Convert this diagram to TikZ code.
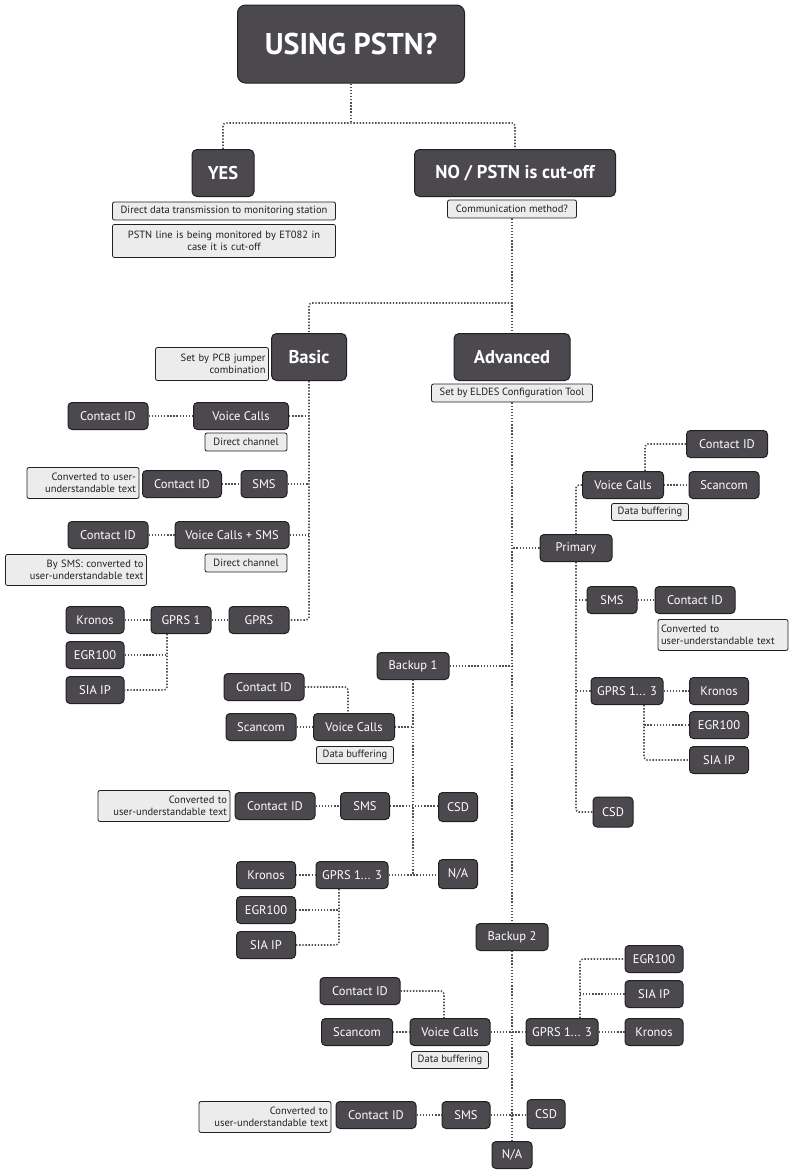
\documentclass[tikz,border=0pt]{standalone}
\usepackage{fontspec}
\setmainfont{PT Sans}
\definecolor{optfill}{RGB}{76,73,78}
\definecolor{optedge}{RGB}{35,31,32}
\definecolor{notefill}{RGB}{236,236,237}
\definecolor{linkgray}{RGB}{80,80,80}

\begin{document}
\begin{tikzpicture}[x=1pt,y=-1pt,
      every node/.style={font=\fontsize{12.5}{14}\selectfont},
      opt/.style={draw=optedge,fill=optfill,text=white,rounded corners=4pt,
                  line width=1pt,inner sep=0pt,minimum height=27pt},
      big/.style={opt,font=\bfseries\fontsize{18.5}{20}\selectfont,
                  minimum height=47pt,rounded corners=5pt},
      note/.style={draw=optedge,fill=notefill,text=optedge,rounded corners=2pt,
                   line width=0.8pt,inner xsep=3pt,inner ysep=0pt,minimum height=18pt,
                   font=\fontsize{10.5}{12.5}\selectfont},
      link/.style={draw=linkgray,line width=1.6pt,dash pattern=on 1.4pt off 1.7pt,
                   rounded corners=3pt}]
    \useasboundingbox (0,0) rectangle (789,1170);
    % top
    \node[big,font=\bfseries\fontsize{30}{32}\selectfont,minimum width=227pt,
          minimum height=78pt,rounded corners=8pt] (pstn) at (351,44) {USING PSTN?};
    \node[big,minimum width=62pt]  (yes) at (223,173) {YES};
    \node[big,minimum width=201pt] (no)  at (515,173) {NO / PSTN is cut-off};
    \node[note,minimum width=223pt] (direct) at (224,211) {Direct data transmission to monitoring station};
    \node[note,text width=217pt,align=center,minimum height=33pt] (monit) at (224,241)
          {PSTN line is being monitored by ET082 in\\case it is cut-off};
    \node[note,minimum width=129pt] (comm) at (512,209) {Communication method?};
    \coordinate (split) at (351,123);
    \coordinate (fork)  at (512,303);
    \draw[link] (pstn.south) -- (split);
    \draw[link] (yes.north) |- (split) -| (no.north);
    % basic / advanced
    \node[big,minimum width=75pt]  (basic) at (309,357) {Basic};
    \node[big,minimum width=116pt] (adv)   at (512,357) {Advanced};
    \node[note,text width=107pt,align=right,minimum height=33pt] (pcb) at (212,364)
          {Set by PCB jumper\\combination};
    \node[note,minimum width=161pt] (eldes) at (512,393) {Set by ELDES Configuration Tool};
    \draw[link] (comm.south) -- (adv.north);
    \draw[link] (fork) -| (basic.north);

    % basic branch
    \node[opt,minimum width=95pt]  (vcA)   at (241,416) {Voice Calls};
    \node[opt,minimum width=80pt]  (cidA1) at (108,416) {Contact ID};
    \node[note,minimum width=82pt] (dchA1) at (246,442) {Direct channel};
    \node[opt,minimum width=46pt]  (smsA)  at (264,484) {SMS};
    \node[opt,minimum width=79pt]  (cidA2) at (182,484) {Contact ID};
    \node[note,text width=106pt,align=right,minimum height=31pt] (convA) at (83,483)
          {Converted to user-\\understandable text};
    \node[opt,minimum width=114pt] (vcsA)  at (232,535) {Voice Calls + SMS};
    \node[opt,minimum width=80pt]  (cidA3) at (108,535) {Contact ID};
    \node[note,text width=135pt,align=right,minimum height=31pt] (bysmsA) at (76,570)
          {By SMS: converted to\\user-understandable text};
    \node[note,minimum width=82pt] (dchA2) at (246,563) {Direct channel};
    \node[opt,minimum width=60pt]  (gprsA)  at (259,620) {GPRS};
    \node[opt,minimum width=60pt]  (gprs1A) at (181,620) {GPRS 1};
    \node[opt,minimum width=58pt]  (kronA)  at (95,620) {Kronos};
    \node[opt,minimum width=58pt]  (egrA)   at (95,655) {EGR100};
    \node[opt,minimum width=58pt]  (siaA)   at (95,690) {SIA IP};
    \draw[link] (basic.south) |- (gprsA.east);
    \draw[link] (vcA.east) -- (vcA.east -| basic.south);
    \draw[link] (smsA.east) -- (smsA.east -| basic.south);
    \draw[link] (vcsA.east) -- (vcsA.east -| basic.south);
    \draw[link] (cidA1) -- (vcA);
    \draw[link] (cidA2) -- (smsA);
    \draw[link] (cidA3) -- (vcsA);
    \draw[link] (kronA) -- (gprs1A);
    \draw[link] (gprs1A) -- (gprsA);
    \draw[link] ([xshift=-14pt]gprs1A.south) coordinate (gA) |- (siaA.east);
    \draw[link] (egrA.east) -- (egrA.east -| gA);

    % advanced: primary
    \node[opt,minimum width=72pt] (prim)  at (576,548) {Primary};
    \node[opt,minimum width=81pt] (vcP)   at (623,485) {Voice Calls};
    \node[opt,minimum width=81pt] (cidP1) at (727,444) {Contact ID};
    \node[opt,minimum width=70pt] (scP)   at (724,485) {Scancom};
    \node[note,minimum width=77pt,minimum height=17pt] (bufP) at (650,512) {Data buffering};
    \node[opt,minimum width=50pt] (smsP)  at (612,600) {SMS};
    \node[opt,minimum width=80pt] (cidP2) at (695,600) {Contact ID};
    \node[note,text width=124pt,align=left,minimum height=31pt] (convP) at (723,635)
          {Converted to\\user-understandable text};
    \node[opt,minimum width=72pt] (gprsP) at (627,691) {GPRS 1... 3};
    \node[opt,minimum width=59pt] (kronP) at (719,691) {Kronos};
    \node[opt,minimum width=59pt] (egrP)  at (719,725) {EGR100};
    \node[opt,minimum width=59pt] (siaP)  at (719,760) {SIA IP};
    \node[opt,minimum width=40pt,minimum height=30pt] (csdP) at (613,812) {CSD};
    \draw[link] (eldes.south) -- (prim.west -| eldes.south);
    \draw[link] (prim.west) -- (prim.west -| eldes.south);
    \draw[link] (vcP.west) -| (prim.north);
    \draw[link] (prim.south) |- (csdP.west);
    \draw[link] (smsP.west) -- (smsP.west -| prim.south);
    \draw[link] (gprsP.west) -- (gprsP.west -| prim.south);
    \draw[link] ([xshift=22pt]vcP.north) |- (cidP1.west);
    \draw[link] (vcP) -- (scP);
    \draw[link] (smsP) -- (cidP2);
    \draw[link] (gprsP) -- (kronP);
    \draw[link] ([xshift=17pt]gprsP.south) coordinate (gP) |- (siaP.west);
    \draw[link] (egrP.west) -- (egrP.west -| gP);

    % backup 1
    \node[opt,minimum width=72pt] (bk1)    at (413,666) {Backup 1};
    \node[opt,minimum width=80pt] (cidB1a) at (264,687) {Contact ID};
    \node[opt,minimum width=70pt] (scB1)   at (261,727) {Scancom};
    \node[opt,minimum width=81pt] (vcB1)   at (354,727) {Voice Calls};
    \node[note,minimum width=77pt,minimum height=17pt] (bufB1) at (355,755) {Data buffering};
    \node[note,text width=126pt,align=right,minimum height=31pt] (convB1) at (164,806)
          {Converted to\\user-understandable text};
    \node[opt,minimum width=80pt] (cidB1b) at (275,806) {Contact ID};
    \node[opt,minimum width=49pt] (smsB1)  at (365,806) {SMS};
    \node[opt,minimum width=39pt,minimum height=29pt] (csdB1) at (458,807) {CSD};
    \node[opt,minimum width=59pt] (kronB1) at (266,875) {Kronos};
    \node[opt,minimum width=72pt] (gprsB1) at (352,875) {GPRS 1... 3};
    \node[opt,minimum width=39pt,minimum height=29pt] (naB1) at (458,874) {N/A};
    \node[opt,minimum width=59pt] (egrB1)  at (266,910) {EGR100};
    \node[opt,minimum width=59pt] (siaB1)  at (266,945) {SIA IP};
    \draw[link] (bk1.east) -- (bk1.east -| eldes.south);
    \draw[link] (bk1.south) -- (bk1.south |- gprsB1.east);
    \draw[link] (vcB1.east) -- (vcB1.east -| bk1.south);
    \draw[link] (cidB1a.east) -| ([xshift=-6pt]vcB1.north);
    \draw[link] (scB1) -- (vcB1);
    \draw[link] (cidB1b) -- (smsB1);
    \draw[link] (smsB1.east) -- (smsB1.east -| csdB1.west);
    \draw[link] (kronB1) -- (gprsB1);
    \draw[link] (gprsB1.east) -- (gprsB1.east -| naB1.west);
    \draw[link] ([xshift=-13pt]gprsB1.south) coordinate (gB1) |- (siaB1.east);
    \draw[link] (egrB1.east) -- (egrB1.east -| gB1);

    % backup 2
    \node[opt,minimum width=72pt] (bk2)    at (512,937) {Backup 2};
    \node[opt,minimum width=80pt] (cidB2a) at (360,991) {Contact ID};
    \node[opt,minimum width=71pt] (scB2)   at (357,1032) {Scancom};
    \node[opt,minimum width=80pt] (vcB2)   at (450,1032) {Voice Calls};
    \node[note,minimum width=77pt,minimum height=17pt] (bufB2) at (450,1060) {Data buffering};
    \node[opt,minimum width=72pt] (gprsB2) at (562,1032) {GPRS 1... 3};
    \node[opt,minimum width=58pt] (egrB2)  at (654,959) {EGR100};
    \node[opt,minimum width=58pt] (siaB2)  at (654,994) {SIA IP};
    \node[opt,minimum width=58pt] (kronB2) at (654,1032) {Kronos};
    \node[note,text width=126pt,align=right,minimum height=31pt] (convB2) at (265,1117)
          {Converted to\\user-understandable text};
    \node[opt,minimum width=80pt] (cidB2b) at (376,1115) {Contact ID};
    \node[opt,minimum width=48pt] (smsB2)  at (466,1115) {SMS};
    \node[opt,minimum width=38pt,minimum height=29pt] (csdB2) at (546,1114) {CSD};
    \node[opt,minimum width=40pt] (naB2)   at (512,1155) {N/A};
    \draw[link] (prim.west -| eldes.south) -- (bk2.north);
    \draw[link] (bk2.south) -- (naB2.north);
    \draw[link] (cidB2a.east) -| ([xshift=-6pt]vcB2.north);
    \draw[link] (scB2) -- (vcB2);
    \draw[link] (vcB2) -- (gprsB2);
    \draw[link] (gprsB2) -- (kronB2);
    \draw[link] ([xshift=18pt]gprsB2.north) coordinate (gB2) |- (egrB2.west);
    \draw[link] (siaB2.west) -- (siaB2.west -| gB2);
    \draw[link] (cidB2b) -- (smsB2);
    \draw[link] (smsB2.east) -- (smsB2.east -| csdB2.west);
  \end{tikzpicture}
\end{document}
